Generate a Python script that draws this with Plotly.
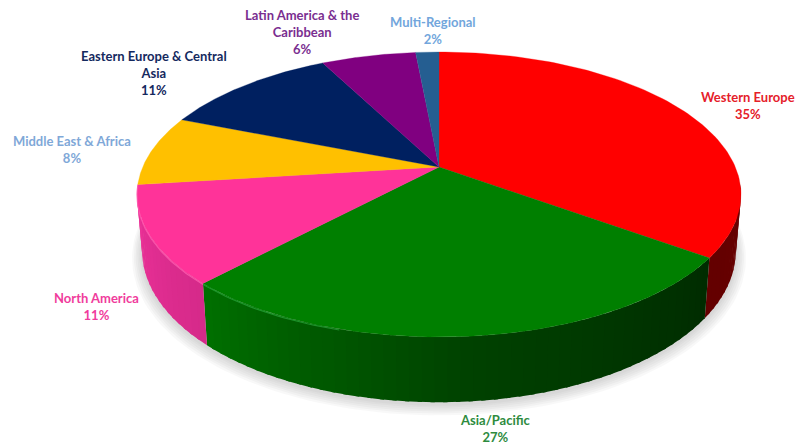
import numpy as np
import plotly.graph_objects as go

CATEGORIES = ["Western Europe", "Asia/Pacific", "North America", "Middle East & Africa",
              "Eastern Europe & Central Asia", "Latin America & the Caribbean", "Multi-Regional"]
VALUES = [35, 27, 11, 8, 11.4, 6.1, 1.5]
LABEL_LINES = ["Western Europe", "Asia/Pacific", "North America", "Middle East & Africa",
               "Eastern Europe & Central<br>Asia", "Latin America & the<br>Caribbean", "Multi-Regional"]

FACE = ["#FF0000", "#007F00", "#FF3399", "#FFC000", "#002060", "#800080", "#255E91"]
TEXT = ["#E5202A", "#2E8B3E", "#F03C9C", "#7FA8D8", "#14295E", "#7A2E90", "#72A6DC"]
SIDE = [[(112, 0, 0), (108, 0, 0), (100, 0, 0)],
        [(0, 44, 0), (0, 66, 0), (0, 112, 0)],
        [(214, 42, 138), (226, 46, 146), (236, 50, 152)],
        [(190, 140, 0)] * 3, [(0, 20, 60)] * 3, [(90, 0, 90)] * 3, [(20, 60, 100)] * 3]
LABEL_POS = [(748, 105), (495, 428), (96, 306), (72, 149), (154, 73), (302, 32), (433, 30)]

CX, CY, A, B, K = 439.0, 167.0, 296.3, 137.2, 0.193


def top(t):
    X, Y = np.sin(t), -np.cos(t)
    w = 1 - K * Y
    return CX + A * X / w, CY + B * Y / w


def bottom(t):
    x, y = top(t)
    return CX + (x - CX) * 0.983, 221.6 + (y - CY) * 1.0625


fig = go.Figure()


def poly(x, y, color, width=0.0):
    fig.add_trace(go.Scatter(x=list(x), y=list(y), mode="lines", fill="toself", fillcolor=color,
                             line=dict(color=color, width=width), hoverinfo="skip",
                             showlegend=False))


# soft shadow below the disc
full = np.linspace(0, 2 * np.pi, 241)
bx, by = bottom(full)
for s, dy in [(1.034, 7), (1.028, 6), (1.022, 5), (1.016, 4), (1.010, 3), (1.005, 2)]:
    poly(CX + (bx - CX) * s, 240 + (by - 240) * (s + 0.004) + dy, "rgba(120,120,120,0.055)")

edges = np.cumsum([0] + VALUES) / sum(VALUES) * 2 * np.pi

# side wall, only the part facing the viewer can show
for i in range(len(VALUES)):
    a0, a1 = edges[i], edges[i + 1]
    n = max(int((a1 - a0) / np.radians(2)), 1)
    ts = np.linspace(a0, a1, n + 1)
    knots = SIDE[i]
    for j in range(n):
        if -np.cos(ts[j]) < 0.13 and -np.cos(ts[j + 1]) < 0.13:
            continue
        f = (j + 0.5) / n
        rgb = [np.interp(f, [0, 0.5, 1], [knots[0][c], knots[1][c], knots[2][c]]) for c in range(3)]
        col = "rgb(%d,%d,%d)" % tuple(int(v) for v in rgb)
        # each band reaches over the next seam so no hairlines show, except at the slice's end
        seg = np.array([ts[j], min(ts[j + 1] + 0.012, a1)])
        tx, ty = top(seg)
        ux, uy = bottom(seg)
        poly([tx[0], tx[1], ux[1], ux[0], tx[0]], [ty[0], ty[1], uy[1], uy[0], ty[0]], col, 0)

# top face
for i in range(len(VALUES)):
    ts = np.linspace(edges[i], edges[i + 1], 90)
    x, y = top(ts)
    poly([CX, *x, CX], [CY, *y, CY], FACE[i], 0.3)

# bevel highlight along the front rim of the left wall
for i, col in [(1, "rgba(40,170,60,0.7)"), (2, "rgba(255,90,175,0.8)")]:
    ts = np.linspace(edges[i], edges[i + 1], 90)
    ts = ts[(-np.cos(ts) > 0.12) & (ts > np.radians(195))]
    x, y = top(ts)
    fig.add_trace(go.Scatter(x=x, y=y + 1, mode="lines", line=dict(color=col, width=1.2),
                             hoverinfo="skip", showlegend=False))

for i, (name, v) in enumerate(zip(LABEL_LINES, VALUES)):
    fig.add_annotation(x=LABEL_POS[i][0], y=LABEL_POS[i][1], text=f"<b>{name}<br>{v:.0f}%</b>",
                       showarrow=False, align="center", xanchor="center", yanchor="middle",
                       font=dict(family="Lato", size=13, color=TEXT[i]))

fig.update_layout(width=798, height=443, margin=dict(l=0, r=0, t=0, b=0),
                  paper_bgcolor="white", plot_bgcolor="white", showlegend=False,
                  xaxis=dict(range=[0, 798], visible=False, fixedrange=True),
                  yaxis=dict(range=[443, 0], visible=False, fixedrange=True))
fig.write_html("out.html", config={"displayModeBar": False},
               post_script="document.body.style.margin='0';document.body.style.overflow='hidden';")
